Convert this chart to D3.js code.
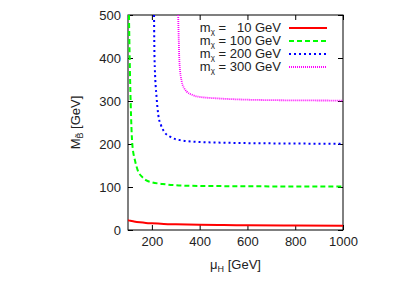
<!DOCTYPE html>
<html>
<head>
<meta charset="utf-8">
<script src="https://cdn.jsdelivr.net/npm/d3@7"></script>
<style>
	body { margin: 0; background: #fff; }
	text { font-family: 'Liberation Sans', Arial, sans-serif; fill: #222; }
</style>
</head>
<body>
<div id="graphic"></div>
<script>
// values: mu_H [GeV] and M_B [GeV]
const mu10 = [100, 110, 125, 150, 175, 200, 250, 300, 400, 500, 600, 800, 1000];
const m10 = [23, 21.5, 20, 18, 16.5, 15.5, 14, 13.2, 12.2, 11.6, 11.1, 10.5, 10];

const mu100 = [104, 107, 111, 118, 130, 140, 160, 175, 200, 245, 343, 500, 1000];
const m100 = [500, 400, 300, 200, 160, 140, 123, 116, 111, 107, 103, 102, 101];

const mu200 = [209, 211, 220, 227, 238, 251, 276, 318, 388, 500, 700, 1000];
const m200 = [500, 400, 306, 267, 244, 229, 217, 209, 205, 203, 201.5, 200.5];

const mu300 = [310, 316, 325, 335, 346, 370, 394, 477, 548, 700, 1000];
const m300 = [500, 384, 345, 330, 322, 314, 310, 306, 304, 302, 301];

const labels = ['10', '100', '200', '300'];
const xTicks = [200, 400, 600, 800, 1000];
const yTicks = [0, 100, 200, 300, 400, 500];

const series = [
	{ mu: mu10, m: m10, colour: '#ff0000', dash: null, width: 2 },
	{ mu: mu100, m: m100, colour: '#00ff00', dash: '5,3', width: 2 },
	{ mu: mu200, m: m200, colour: '#0000ff', dash: '2,3', width: 2 },
	{ mu: mu300, m: m300, colour: '#ff00ff', dash: '1,1', width: 1.8 }
];

let margin = { top: 15, right: 66, bottom: 56, left: 128 };
let width = 409, height = 286;
let chart_width = width - margin.left - margin.right;
let chart_height = height - margin.top - margin.bottom;

let svg = d3.select('#graphic')
	.append('svg')
	.attr('width', width)
	.attr('height', height)
	.append('g')
	.attr('transform', 'translate(' + margin.left + ',' + margin.top + ')');

const x = d3.scaleLinear().domain([100, 1000]).range([0, chart_width]);
const y = d3.scaleLinear().domain([0, 500]).range([chart_height, 0]);

// clip curves to the frame
svg.append('clipPath').attr('id', 'clip')
	.append('rect').attr('width', chart_width).attr('height', chart_height);

// axes, ticks pointing inward, mirrored on top and right
svg.append('g')
	.attr('class', 'x axis')
	.attr('transform', 'translate(0,' + chart_height + ')')
	.call(d3.axisBottom(x).tickValues(xTicks).tickSize(-5).tickPadding(7).tickFormat(d3.format('d')));
svg.append('g')
	.attr('class', 'x axis top')
	.call(d3.axisTop(x).tickValues(xTicks).tickSize(-5).tickFormat(''));
svg.append('g')
	.attr('class', 'y axis')
	.call(d3.axisLeft(y).tickValues(yTicks).tickSize(-5).tickPadding(7).tickFormat(d3.format('d')));
svg.append('g')
	.attr('class', 'y axis right')
	.attr('transform', 'translate(' + chart_width + ',0)')
	.call(d3.axisRight(y).tickValues(yTicks).tickSize(-5).tickFormat(''));

svg.selectAll('.axis path').remove();
svg.selectAll('.axis line').attr('stroke', '#000');
svg.selectAll('.axis text').attr('font-size', 13).attr('fill', '#222')
	.attr('font-family', "'Liberation Sans', Arial, sans-serif");

svg.append('rect')
	.attr('width', chart_width)
	.attr('height', chart_height)
	.attr('fill', 'none')
	.attr('stroke', '#000')
	.attr('stroke-width', 1);

const line = d3.line()
	.x((d) => x(d[0]))
	.y((d) => y(d[1]))
	.curve(d3.curveMonotoneX);

svg.append('g')
	.attr('clip-path', 'url(#clip)')
	.selectAll('path')
	.data(series)
	.join('path')
	.attr('d', (s) => line(s.mu.map((v, i) => [v, s.m[i]])))
	.attr('fill', 'none')
	.attr('stroke', (s) => s.colour)
	.attr('stroke-width', (s) => s.width)
	.attr('stroke-dasharray', (s) => s.dash);

// legend
let legend = svg.selectAll('g.legend')
	.data(series)
	.join('g')
	.attr('class', 'legend')
	.attr('transform', (d, i) => 'translate(0,' + (17 + i * 13) + ')');

legend.append('text')
	.attr('x', 153)
	.attr('y', 0)
	.attr('text-anchor', 'end')
	.attr('font-size', 13)
	.each(function (d, i) {
		let t = d3.select(this);
		t.append('tspan').text('m');
		t.append('tspan').attr('font-size', 8).attr('dy', 2).text('χ');
		t.append('tspan').attr('dy', -2).text(' = ' + (labels[i].length < 3 ? '\u2007' : '') + labels[i] + ' GeV')
			.attr('xml:space', 'preserve');
	});

legend.append('line')
	.attr('x1', 161)
	.attr('x2', 199)
	.attr('y1', -4)
	.attr('y2', -4)
	.attr('stroke', (d) => d.colour)
	.attr('stroke-width', (d) => d.width)
	.attr('stroke-dasharray', (d) => d.dash);

// axis labels
let xl = svg.append('text')
	.attr('x', chart_width / 2)
	.attr('y', chart_height + 39)
	.attr('text-anchor', 'middle')
	.attr('font-size', 13);
xl.append('tspan').text('μ');
xl.append('tspan').attr('font-size', 9).attr('dy', 3).text('H');
xl.append('tspan').attr('dy', -3).text(' [GeV]');

let yl = svg.append('text')
	.attr('transform', 'translate(-48,' + (chart_height / 2) + ') rotate(-90)')
	.attr('text-anchor', 'middle')
	.attr('font-size', 13);
yl.append('tspan').text('M');
yl.append('tspan').attr('font-size', 9).attr('dy', 3).text('B\u0303');
yl.append('tspan').attr('dy', -3).text(' [GeV]');
</script>
</body>
</html>
